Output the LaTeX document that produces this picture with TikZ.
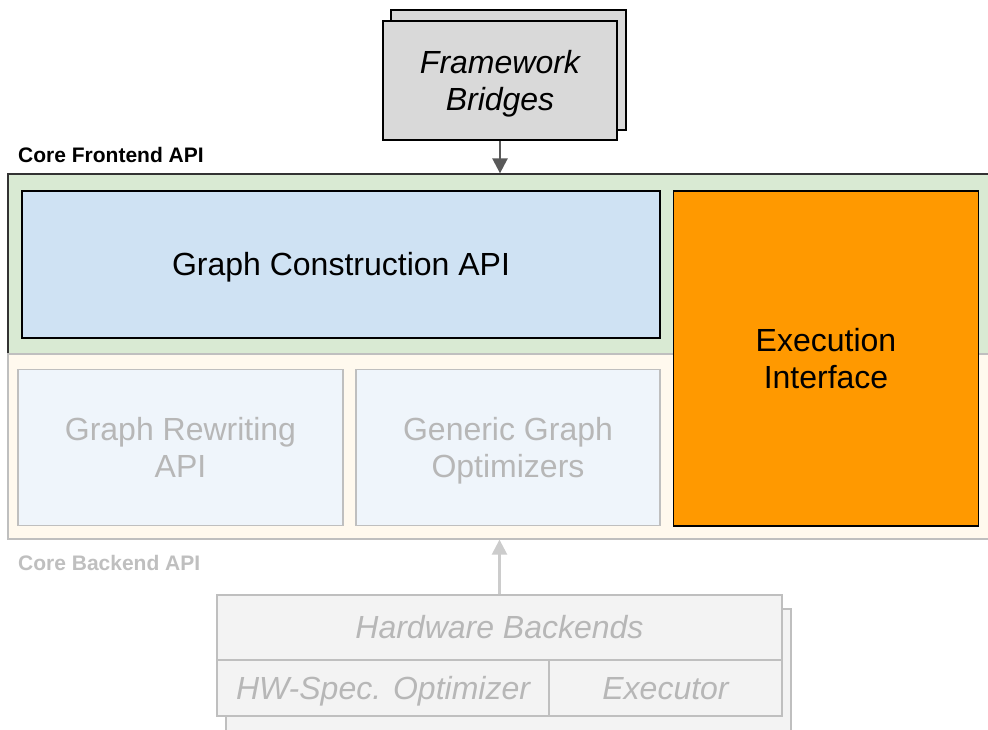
\documentclass[tikz,border=0pt]{standalone}
\usepackage{fontspec}
\setmainfont{Liberation Sans}
\usetikzlibrary{arrows.meta}
\definecolor{greenfill}{HTML}{D9EAD3}
\definecolor{beigefill}{HTML}{FFF9EE}
\definecolor{bluefill}{HTML}{CFE2F3}
\definecolor{paleblue}{HTML}{EFF5FB}
\definecolor{orangefill}{HTML}{FF9900}
\definecolor{greyfill}{HTML}{D9D9D9}
\definecolor{lightfill}{HTML}{F3F3F3}
\definecolor{lightline}{HTML}{BFBFBF}
\definecolor{lighttext}{HTML}{B7B7B7}
\definecolor{darkarrow}{HTML}{595959}
\definecolor{lightarrow}{HTML}{CCCCCC}
\newcommand{\capline}[1]{\raisebox{0pt}[22.9pt][0pt]{#1}}
\tikzset{
  big/.style={font=\fontsize{32}{37}\selectfont},
  blk/.style={draw=black, line width=1.6pt, inner sep=0pt, align=center, big},
  faint/.style={draw=lightline, line width=1.6pt, inner sep=0pt, align=center, big, text=lighttext},
  region/.style={inner sep=0pt, line width=1.3pt},
  title/.style={font=\fontsize{21}{24}\selectfont\bfseries, anchor=west, inner sep=0pt},
  darrow/.style={draw=darkarrow, line width=2.5pt, -{Triangle[length=15pt,width=15pt]}},
  larrow/.style={draw=lightarrow, line width=2.5pt, -{Triangle[length=15pt,width=15pt]}},
}
\begin{document}
\begin{tikzpicture}[x=1pt,y=-1pt]
\useasboundingbox (0,0) rectangle (988,729);
\clip (0,0) rectangle (988,729);
\fill[white] (0,0) rectangle (988,729);
% regions
\node[region, draw=black!80, fill=greenfill, minimum width=990pt, minimum height=180pt] (front) at (503,264) {};
\node[region, draw=lightline, fill=beigefill, minimum width=990pt, minimum height=185pt] (back) at (503,446.5) {};
% framework bridges
\node[blk, fill=greyfill, minimum width=235pt, minimum height=120pt] (fbback) at (508.5,70) {};
\node[blk, fill=greyfill, minimum width=234pt, minimum height=119pt] (fb) at (500,80.5) {\capline{\itshape Framework}\\\capline{\itshape Bridges}};
\draw[darrow] (fb.south) -- (fb.south |- front.north);
% titles
\node[title] (ftitle) at (18,155) {Core Frontend API};
\node[title, text=lightline] (btitle) at (18,563) {Core Backend API};
% frontend boxes
\node[blk, fill=bluefill, minimum width=638pt, minimum height=147pt] (gc) at (341,264.5) {\capline{Graph Construction API}};
\node[blk, fill=orangefill, minimum width=305pt, minimum height=335pt] (ei) at (826,358.5) {\capline{Execution}\\\capline{Interface}};
% backend boxes
\node[faint, fill=paleblue, minimum width=325pt, minimum height=156pt] (gr) at (180.5,447.5) {\capline{Graph Rewriting}\\\capline{API}};
\node[faint, fill=paleblue, minimum width=304pt, minimum height=156pt] (go) at (508,447.5) {\capline{Generic Graph}\\\capline{Optimizers}};
% hardware backends
\node[faint, fill=lightfill, minimum width=565pt, minimum height=140pt] (hwback) at (508.5,679) {};
\node[faint, fill=lightfill, minimum width=565pt, minimum height=65pt] (hw) at (499.5,627.5) {\capline{\itshape Hardware Backends}};
\node[faint, fill=lightfill, minimum width=332pt, minimum height=56pt] (hwopt) at (383,688) {\capline{\itshape HW-Spec. Optimizer}};
\node[faint, fill=lightfill, minimum width=233pt, minimum height=56pt] (hwexec) at (665.5,688) {\capline{\itshape Executor}};
\draw[larrow] (hw.north) -- (hw.north |- back.south);
\end{tikzpicture}
\end{document}
